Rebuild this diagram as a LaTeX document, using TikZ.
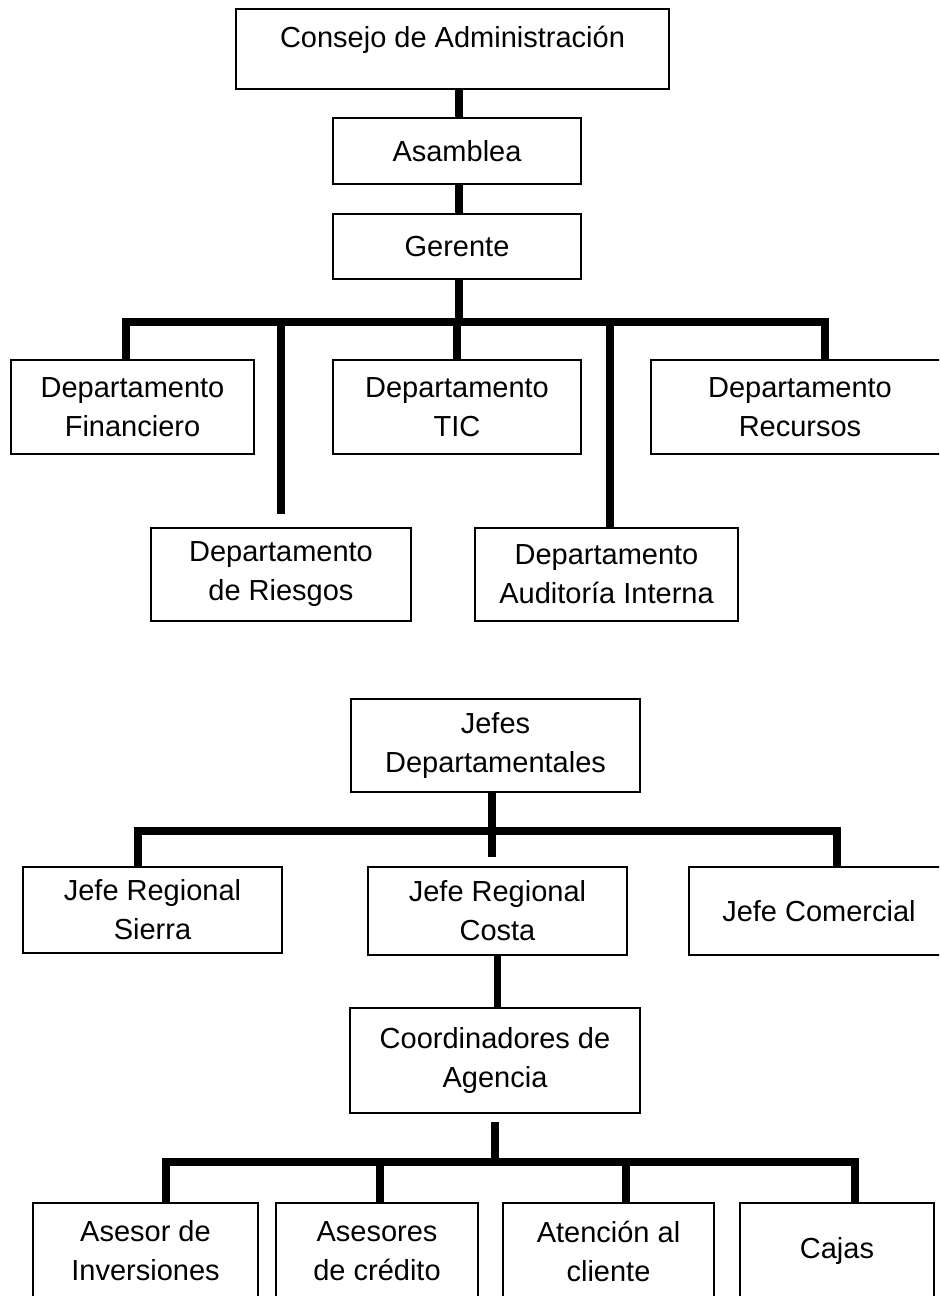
\documentclass[tikz,border=0pt]{standalone}
\usepackage{fontspec}
\setmainfont{Liberation Sans}
\tikzset{
  box/.style={draw, line width=1.2pt, align=center, inner sep=0pt,
    font=\fontsize{21.75}{29.25}\selectfont},
  link/.style={line width=5.5pt, line join=miter}
}
\begin{document}
\begin{tikzpicture}[x=0.75pt, y=-0.75pt]
\clip (0,0) rectangle (939,1296);

\node[box, anchor=base, minimum width=324.75pt, text height=28.9pt, text depth=31.1pt] (n01) at (452.5,47.5) {Consejo de Administración};
\node[box, minimum width=186pt, minimum height=49.5pt] (n02) at (457,151) {Asamblea};
\node[box, minimum width=186pt, minimum height=48.75pt] (n03) at (457,246.5) {Gerente};

\node[box, minimum width=182.25pt, minimum height=70.5pt] (n11) at (132.5,407) {Departamento\\Financiero};
\node[box, minimum width=186pt, minimum height=70.5pt] (n12) at (457,407) {Departamento\\TIC};
\node[box, minimum width=223.5pt, minimum height=70.5pt] (n13) at (800,407) {Departamento\\Recursos};
\node[box, minimum width=195pt, minimum height=69.75pt] (n14) at (281,574.5) {Departamento\\de Riesgos};
\node[box, minimum width=197.25pt, minimum height=69.75pt] (n15) at (606.5,574.5) {Departamento\\Auditoría Interna};

\node[box, minimum width=216.75pt, minimum height=69.75pt] (n21) at (495.5,745.5) {Jefes\\Departamentales};

\node[box, minimum width=194.25pt, minimum height=64.5pt] (n31) at (152.5,910) {Jefe Regional\\Sierra};
\node[box, minimum width=194.25pt, minimum height=66pt] (n32) at (497.5,911) {Jefe Regional\\Costa};
\node[box, minimum width=195pt, minimum height=66pt] (n33) at (819,911) {Jefe Comercial};

\node[box, minimum width=217.5pt, minimum height=78.75pt] (n41) at (495,1060.5) {Coordinadores de\\Agencia};

\node[box, minimum width=168.75pt, minimum height=72pt] (n51) at (145.5,1251) {Asesor de\\Inversiones};
\node[box, minimum width=151.5pt, minimum height=72pt] (n52) at (377,1251) {Asesores\\de crédito};
\node[box, minimum width=158.25pt, minimum height=72pt] (n53) at (608.5,1251) {Atención al\\cliente};
\node[box, minimum width=145.5pt, minimum height=72pt] (n54) at (837,1251) {Cajas};

% bus points
\coordinate (b1) at (126,322);
\coordinate (b2) at (825,322);
\coordinate (b3) at (281,322);
\coordinate (b4) at (610,322);
\coordinate (c1) at (138,831);
\coordinate (c2) at (837,831);
\coordinate (c3) at (492,857);
\coordinate (d0) at (495,1122);
\coordinate (d1) at (166,1162);
\coordinate (d2) at (855,1162);
\coordinate (d3) at (380,1162);
\coordinate (d4) at (626,1162);

\draw[link] (n02.north) ++(2,0) coordinate (a1) -- (a1 |- n01.south);
\draw[link] (n03.north) ++(2,0) coordinate (a2) -- (a2 |- n02.south);
\draw[link] (n03.south) ++(2,0) coordinate (a3) -- (a3 |- b1);

\draw[link] (b1 |- n11.north) -- (b1) -- (b2) -- (b2 |- n13.north);
\draw[link] (n12) -- (n12 |- b1);
\draw[link] (b3) -- ([yshift=9.75pt]n14.north);
\draw[link] (b4) -- (b4 |- n15.north);

\draw[link] (n21.south -| c3) -- (c3);
\draw[link] (c1 |- n31.north) -- (c1) -- (c2) -- (c2 |- n33.north);
\draw[link] (n32.south) -- (n32.south |- n41.north);

\draw[link] (d0) -- (d0 |- d1);
\draw[link] (d1 |- n51.north) -- (d1) -- (d2) -- (d2 |- n54.north);
\draw[link] (d3) -- (d3 |- n52.north);
\draw[link] (d4) -- (d4 |- n53.north);
\end{tikzpicture}
\end{document}
